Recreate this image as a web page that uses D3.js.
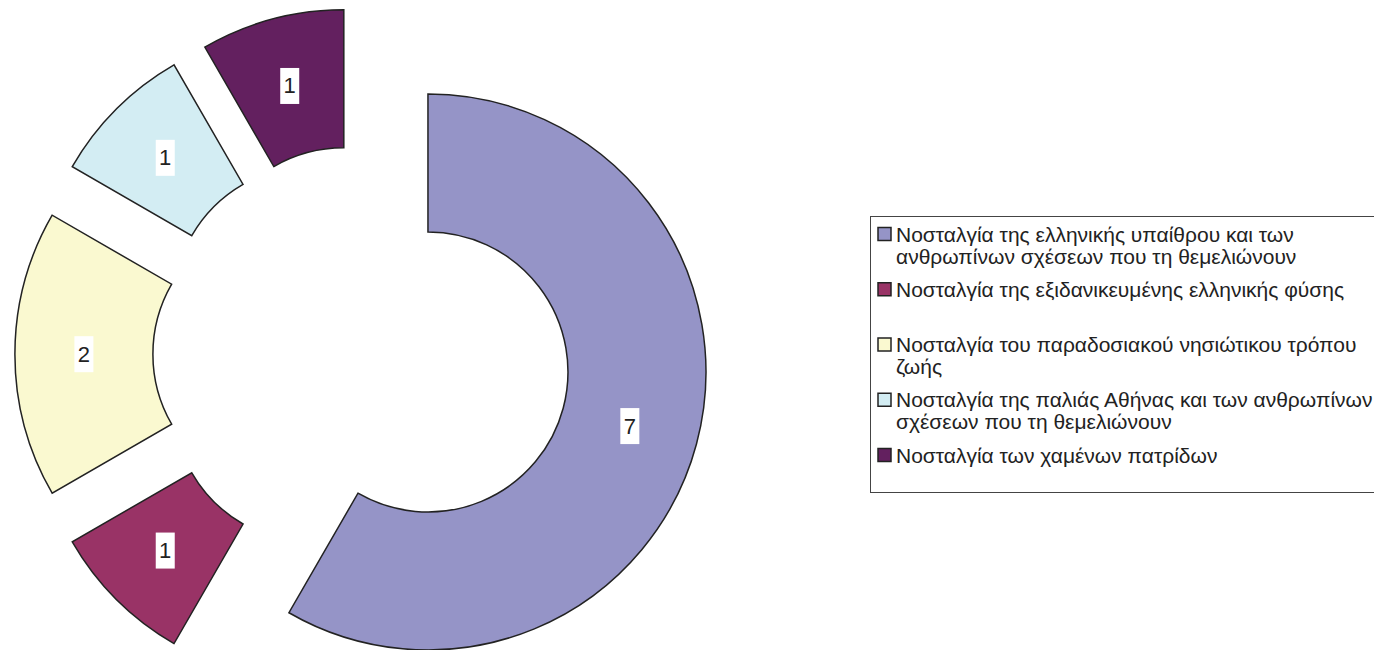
<!DOCTYPE html>
<html>
<head>
<meta charset="utf-8">
<script src="https://cdn.jsdelivr.net/npm/d3@7"></script>
<style>
  html, body { margin: 0; padding: 0; background: #fff; }
  svg { display: block; }
</style>
</head>
<body>
<svg id="chart" width="1374" height="650"></svg>
<script>
// ---- data ----
const categories = [
  "Νοσταλγία της ελληνικής υπαίθρου και των ανθρωπίνων σχέσεων που τη θεμελιώνουν",
  "Νοσταλγία της εξιδανικευμένης ελληνικής φύσης",
  "Νοσταλγία του παραδοσιακού νησιώτικου τρόπου ζωής",
  "Νοσταλγία της παλιάς Αθήνας και των ανθρωπίνων σχέσεων που τη θεμελιώνουν",
  "Νοσταλγία των χαμένων πατρίδων"
];
const values = [7, 1, 2, 1, 1];
const legendLines = [
  ["Νοσταλγία της ελληνικής υπαίθρου και των", "ανθρωπίνων σχέσεων που τη θεμελιώνουν"],
  ["Νοσταλγία της εξιδανικευμένης ελληνικής φύσης"],
  ["Νοσταλγία του παραδοσιακού νησιώτικου τρόπου", "ζωής"],
  ["Νοσταλγία της παλιάς Αθήνας και των ανθρωπίνων", "σχέσεων που τη θεμελιώνουν"],
  ["Νοσταλγία των χαμένων πατρίδων"]
];
const colors = ["#9594C7", "#993366", "#FAF9D0", "#D3EDF3", "#63205F"];

// ---- layout ----
const svg = d3.select("#chart");
const cx = 361.6, cy = 354.2;
const outerR = 278, innerR = 140, explode = 68.7;
const font = "'Liberation Sans', Arial, sans-serif";

const data = categories.map((c, i) => ({ name: c, value: values[i], color: colors[i], lines: legendLines[i] }));

const pie = d3.pie().sort(null).value(d => d.value).startAngle(0).endAngle(2 * Math.PI);
const arc = d3.arc().innerRadius(innerR).outerRadius(outerR);
const arcs = pie(data);

const g = svg.append("g").attr("transform", `translate(${cx},${cy})`);

const slice = g.selectAll("g.slice").data(arcs).enter().append("g")
  .attr("class", "slice")
  .attr("transform", d => {
    const m = (d.startAngle + d.endAngle) / 2;
    return `translate(${explode * Math.sin(m)},${-explode * Math.cos(m)})`;
  });

slice.append("path")
  .attr("d", arc)
  .attr("fill", d => d.data.color)
  .attr("stroke", "#222")
  .attr("stroke-width", 1.5)
  .attr("stroke-linejoin", "miter");

const lab = slice.append("g").attr("transform", d => {
  const c = arc.centroid(d);
  return `translate(${c[0]},${c[1]})`;
});
lab.append("rect")
  .attr("x", -9.5).attr("y", -18).attr("width", 19).attr("height", 36)
  .attr("fill", "#fff");
lab.append("text")
  .attr("text-anchor", "middle")
  .attr("dominant-baseline", "central")
  .attr("font-family", font)
  .attr("font-size", 22)
  .attr("fill", "#222")
  .text(d => d.value === undefined ? d.data.value : d.data.value);

// ---- legend ----
const legend = svg.append("g");
legend.append("rect")
  .attr("x", 870.5).attr("y", 216.5)
  .attr("width", 620).attr("height", 276)
  .attr("fill", "#fff")
  .attr("stroke", "#444")
  .attr("stroke-width", 1);

const ly = d3.scalePoint().domain(d3.range(data.length)).range([234, 455]);
const item = legend.selectAll("g.item").data(data).enter().append("g")
  .attr("class", "item")
  .attr("transform", (d, i) => `translate(0,${ly(i)})`);

item.append("rect")
  .attr("x", 878).attr("y", -6.5).attr("width", 13).attr("height", 13)
  .attr("fill", d => d.color)
  .attr("stroke", "#222").attr("stroke-width", 1.5);

item.each(function(d) {
  const t = d3.select(this);
  d.lines.forEach((ln, k) => {
    t.append("text")
      .attr("x", 896).attr("y", k * 22)
      .attr("dominant-baseline", "central")
      .attr("font-family", font)
      .attr("font-size", 21)
      .attr("fill", "#222")
      .text(ln);
  });
});
</script>
</body>
</html>
